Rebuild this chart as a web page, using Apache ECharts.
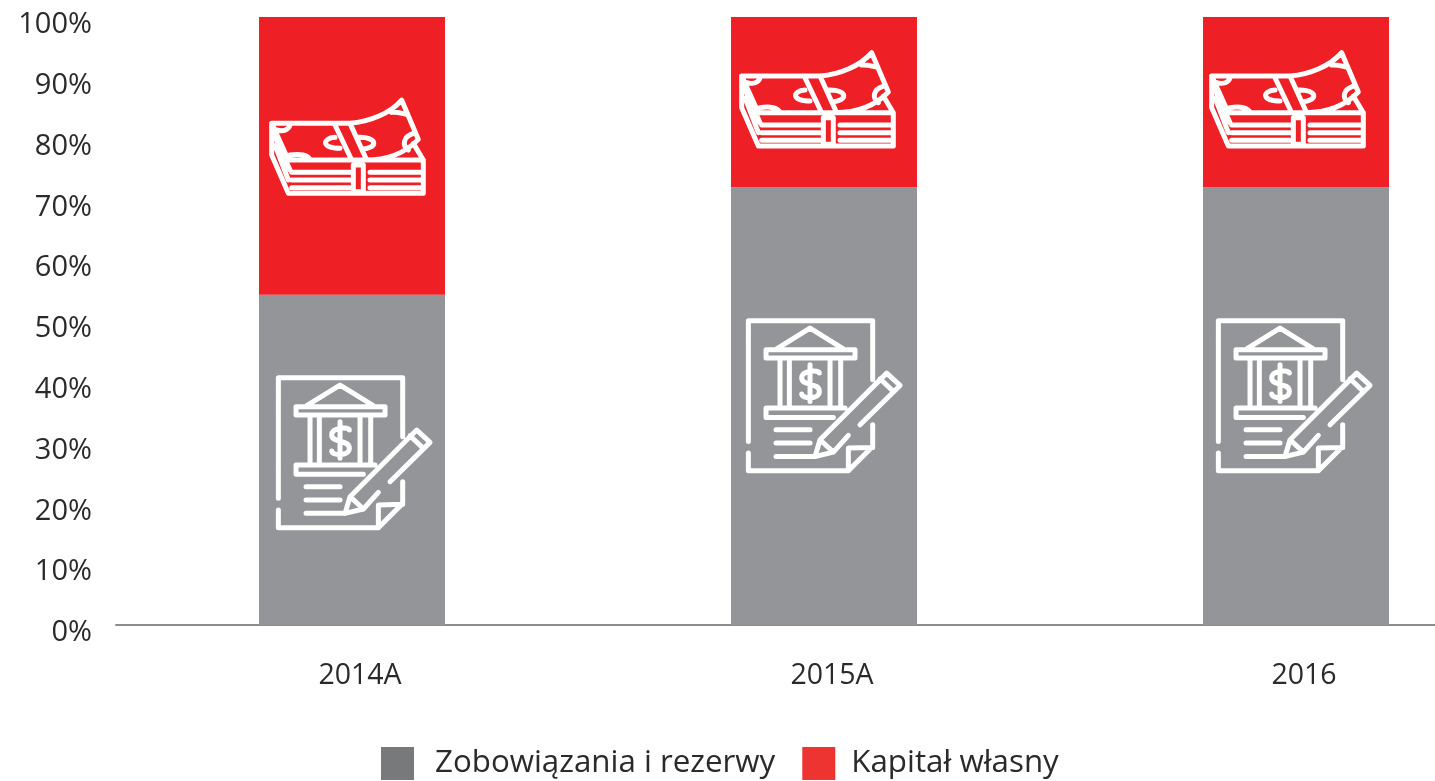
<!DOCTYPE html>
<html>
<head>
<meta charset="utf-8">
<style>html,body{margin:0;padding:0;background:#fff;overflow:hidden}#c{width:1435px;height:781px}</style>
<script src="https://cdn.jsdelivr.net/npm/echarts@6/dist/echarts.min.js"></script>
</head>
<body>
<div id="c"></div>
<script>
const categories = ['2014A', '2015A', '2016'];
const liabilities = [54.3, 72, 72];
const equity = [45.7, 28, 28];
const yearMoneyLevel = [78.67, 86.45, 86.45];
const yearDocLevel = [28.34, 37.7, 37.7];

const moneyPath = [
 'M65 130L300 130C360 125 420 100 455 60L505 178C470 215 420 240 345 240',
 'M65 130L115 240L520 240L520 340L115 340L65 225L65 130',
 'M520 240L490 190',
 'M125 277L300 277M125 300L300 300M125 323L300 323',
 'M360 277L515 277M360 300L515 300M360 323L515 323',
 'M255 135L305 240M300 130L350 240',
 'M310 255L310 335L340 335L340 255Z',
 'M75 170L120 270M75 195L115 300',
 'M80 150C100 155 115 150 120 135',
 'M120 225C150 220 175 225 180 240',
 'M425 97C440 95 455 100 470 103',
 'M490 160C460 170 455 195 475 210',
 'M255 172C215 175 215 205 270 205',
 'M325 172C385 170 385 205 335 208'
].join('');

const docPath = [
 'M55 400L55 38L428 38L428 215',
 'M55 435L55 488L355 488L428 415L428 350',
 'M355 488L355 420L428 418',
 'M140 122L240 60L340 122',
 'M108 125L375 125L375 150L108 150Z',
 'M150 155L150 295M178 155L178 295M300 155L300 295M332 155L332 295',
 'M345 300L108 300L108 328L310 328',
 'M240 170L240 280',
 'M268 195C268 185 215 185 215 210C215 235 268 222 268 250C268 275 215 272 215 258',
 'M138 365L240 365M138 405L240 405M138 445L250 445',
 'M255 445L270 395L470 195L510 232L390 350',
 'M355 382L310 432L255 445',
 'M270 395L310 432',
 'M450 212L490 250'
].join('');

function iconSeries(levels, pathData, w, h, dx) {
  return {
    type: 'custom',
    silent: true,
    clip: false,
    z: 5,
    data: levels.map((v, i) => [i, v]),
    encode: {x: 0, y: 1},
    renderItem(params, api) {
      const p = api.coord([api.value(0), api.value(1)]);
      const drift = -2 * params.dataIndex;
      return {
        type: 'path',
        shape: {pathData, x: p[0] + dx + drift - w / 2, y: p[1] - h / 2, width: w, height: h},
        style: {fill: 'none', stroke: '#fff', lineWidth: 5, lineJoin: 'round', lineCap: 'round'}
      };
    }
  };
}

const font = '"Open Sans", sans-serif';
const chart = echarts.init(document.getElementById('c'), null, {renderer: 'canvas'});
chart.setOption({
  animation: false,
  backgroundColor: '#fff',
  grid: {left: 116, top: 17, width: 1416, height: 608, containLabel: false, outerBoundsMode: 'none'},
  legend: {
    left: 381, top: 747, padding: 0, itemWidth: 33, itemHeight: 33, itemGap: 27, icon: 'rect',
    selectedMode: false,
    textStyle: {fontFamily: font, fontSize: 31.3, color: '#2a2a2c', padding: [12, 0, 0, 16]},
    data: [
      {name: 'Zobowiązania i rezerwy', itemStyle: {color: '#77797a'}},
      {name: 'Kapitał własny', itemStyle: {color: '#ee3430'}, textStyle: {padding: [12, 0, 0, 11]}}
    ]
  },
  xAxis: {
    type: 'category', data: categories,
    axisTick: {show: false},
    axisLine: {lineStyle: {color: '#8a8c8e', width: 2}},
    axisLabel: {fontFamily: font, fontSize: 28.5, color: '#2a2a2c', margin: 36, padding: [0, 0, 0, 16]}
  },
  yAxis: {
    type: 'value', min: 0, max: 100, interval: 10,
    axisLine: {show: false}, axisTick: {show: false}, splitLine: {show: false},
    axisLabel: {formatter: '{value}%', fontFamily: font, fontSize: 29, color: '#2a2a2c', margin: 24, verticalAlign: 'top', lineHeight: 16}
  },
  series: [
    {name: 'Zobowiązania i rezerwy', type: 'bar', stack: 'a', barWidth: 186, data: liabilities, itemStyle: {color: '#939598'}},
    {name: 'Kapitał własny', type: 'bar', stack: 'a', barWidth: 186, data: equity, itemStyle: {color: '#ee1f25'}},
    iconSeries(yearMoneyLevel, moneyPath, 151.7, 93.3, -4.5),
    iconSeries(yearDocLevel, docPath, 151.7, 150, 2.2)
  ]
});
</script>
</body>
</html>
